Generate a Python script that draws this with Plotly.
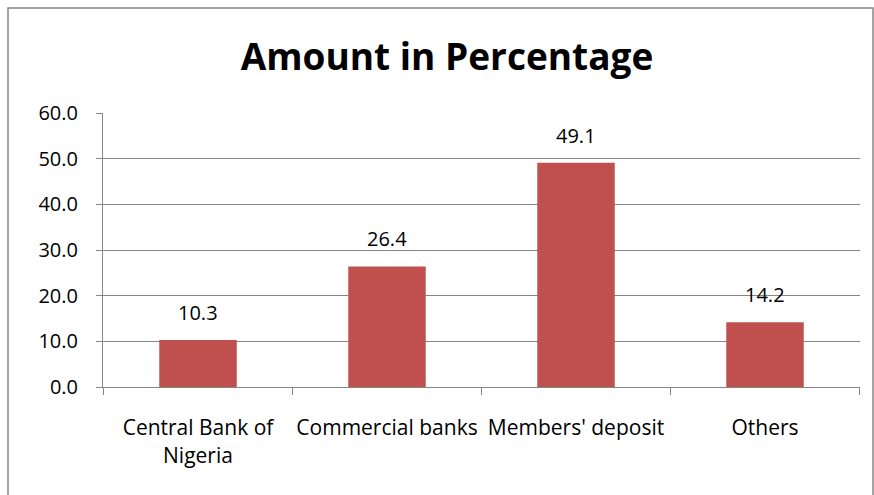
import plotly.graph_objects as go

categories = ["Central Bank of<br>Nigeria", "Commercial banks", "Members' deposit", "Others"]
values = [10.3, 26.4, 49.1, 14.2]
labels = ["10.3", "26.4", "49.1", "14.2"]
y_ticks = [0, 10, 20, 30, 40, 50, 60]
y_tick_text = ["0.0", "10.0", "20.0", "30.0", "40.0", "50.0", "60.0"]
title = "Amount in Percentage"

FONT = "Open Sans, Liberation Sans, sans-serif"
W, H = 874, 495
L, R, T, B = 103, 14, 113, 108
pw = W - L - R
ph = H - T - B

fig = go.Figure()
fig.add_trace(go.Bar(x=categories, y=values, marker=dict(color="#C0504D", line=dict(width=0)),
                     width=0.41, hoverinfo="skip"))
for c, v, t in zip(categories, values, labels):
    fig.add_annotation(x=c, y=v, text=t, showarrow=False, yanchor="bottom", yshift=12,
                       font=dict(family=FONT, size=20, color="#000000"))

fig.update_layout(
    width=W, height=H,
    margin=dict(l=L, r=R, t=T, b=B),
    paper_bgcolor="white", plot_bgcolor="white",
    showlegend=False,
    title=dict(text="<b>" + title + "</b>", x=447 / W, xref="container", xanchor="center",
               y=1 - 57 / H, yanchor="middle",
               font=dict(family=FONT, size=37, color="#000000")),
    font=dict(family=FONT, size=20, color="#000000"),
)
fig.update_yaxes(range=[0, 60], tickvals=y_ticks, ticktext=y_tick_text,
                 showgrid=True, gridcolor="#868686", gridwidth=1,
                 showline=True, linecolor="#868686", linewidth=1,
                 ticks="outside", ticklen=6, tickcolor="#868686",
                 ticklabelstandoff=14,
                 zeroline=False, tickfont=dict(family=FONT, size=20, color="#000000"))
fig.update_xaxes(showline=True, linecolor="#868686", linewidth=1,
                 ticks="", ticklabelstandoff=22,
                 tickfont=dict(family=FONT, size=21, color="#000000"))

# category boundary tick marks
n = len(categories)
for i in range(n + 1):
    fig.add_shape(type="line", xref="x", yref="paper", x0=i - 0.5, x1=i - 0.5,
                  y0=0, y1=-8 / ph, line=dict(color="#868686", width=1))

# outer border
fig.add_shape(type="rect", xref="paper", yref="paper",
              x0=(8 - L) / pw, x1=(873 - L) / pw,
              y0=-(520 - (H - B)) / ph, y1=1 + (T - 8) / ph,
              line=dict(color="#868686", width=1.5), fillcolor="rgba(0,0,0,0)", layer="below")

fig.write_html("out.html")
